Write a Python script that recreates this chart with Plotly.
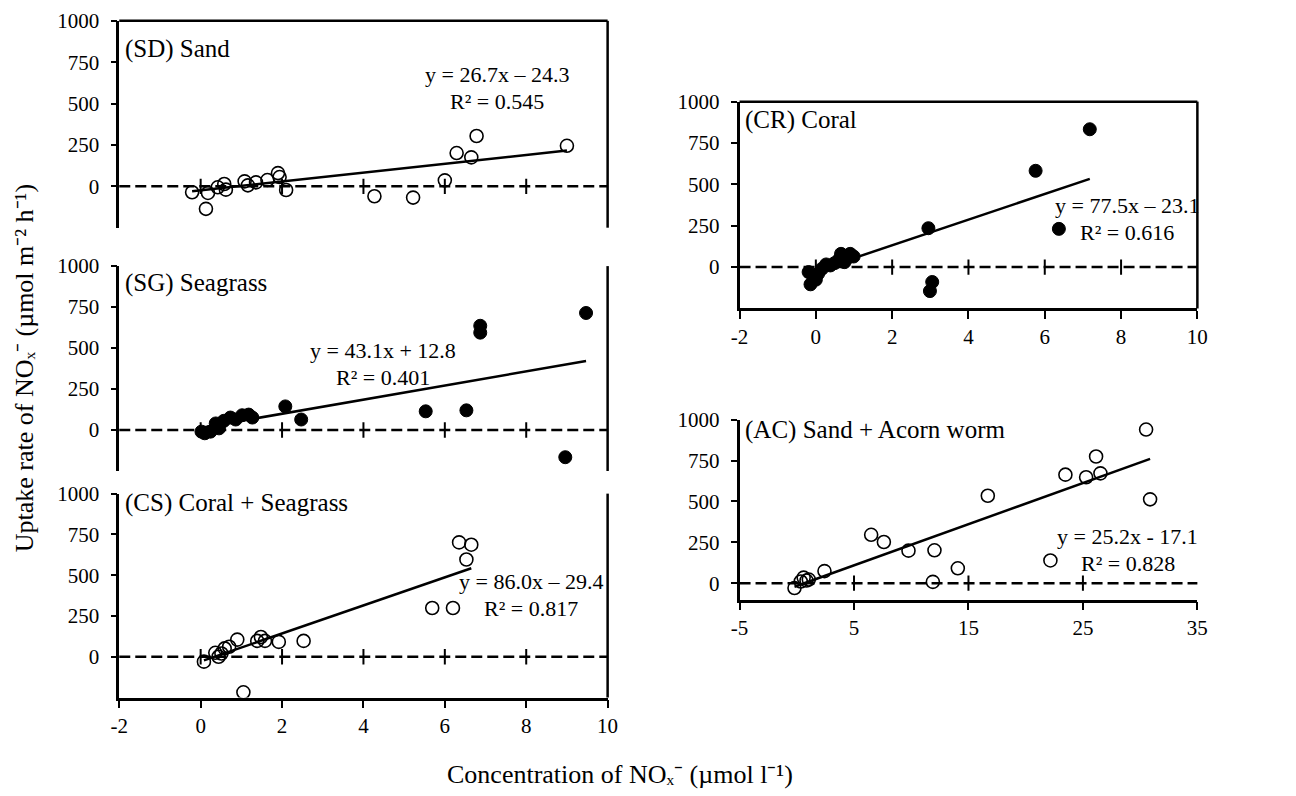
import plotly.graph_objects as go

# ---------------- data ----------------
# (SD) Sand
sd_x = [-0.21, 0.13, 0.18, 0.42, 0.58, 0.62, 1.08, 1.16, 1.36, 1.64, 1.90, 1.94, 2.10,
        4.27, 5.22, 6.00, 6.29, 6.65, 6.78, 9.00]
sd_y = [-36, -136, -40, -6, 14, -20, 30, 6, 24, 38, 80, 56, -22,
        -60, -68, 36, 201, 175, 304, 245]
sd_fit = (26.7, -24.3, "0.545")

# (SG) Seagrass
sg_x = [0.02, 0.10, 0.24, 0.37, 0.45, 0.57, 0.73, 0.86, 1.02, 1.18, 1.27,
        2.08, 2.47, 5.53, 6.53, 6.87, 6.87, 8.96, 9.47]
sg_y = [-10, -20, -10, 40, 10, 56, 76, 64, 90, 94, 76,
        144, 64, 114, 120, 636, 594, -166, 714]
sg_fit = (43.1, 12.8, "0.401")

# (CS) Coral + Seagrass
cs_x = [0.08, 0.36, 0.44, 0.51, 0.59, 0.70, 0.90, 1.05, 1.39, 1.48, 1.58, 1.92, 2.53,
        5.69, 6.20, 6.35, 6.53, 6.65]
cs_y = [-30, 24, 0, 20, 51, 61, 105, -218, 97, 121, 97, 91, 97,
        299, 299, 701, 596, 687]
cs_fit = (86.0, -29.4, "0.817")

# (CR) Coral
cr_x = [-0.19, -0.14, 0.00, 0.06, 0.16, 0.27, 0.38, 0.49, 0.60, 0.66, 0.75, 0.86, 0.90, 0.99,
        2.95, 3.05, 2.99, 5.76, 6.37, 7.18]
cr_y = [-30, -104, -76, -40, -10, 16, 10, 24, 44, 80, 30, 60, 80, 64,
        235, -90, -145, 582, 231, 833]
cr_fit = (77.5, -23.1, "0.616")

# (AC) Sand + Acorn worm
ac_x = [-0.20, 0.35, 0.60, 0.85, 1.05, 2.42, 6.50, 7.61, 9.76, 12.03, 11.89, 14.07,
        16.69, 22.16, 23.47, 25.28, 26.15, 26.53, 30.52, 30.87]
ac_y = [-30, 10, 34, 16, 22, 74, 296, 252, 199, 201, 8, 91,
        535, 139, 664, 648, 775, 672, 940, 513]
ac_fit = (25.2, -17.1, "0.828")

# axis ticks
y_ticks = [0, 250, 500, 750, 1000]
x_ticks_conc = [-2, 0, 2, 4, 6, 8, 10]
x_ticktext_conc = ["-2", "0", "2", "4", "6", "8", "10"]
x_ticks_ac = [-5, 5, 15, 25, 35]
x_ticktext_ac = ["-5", "5", "15", "25", "35"]

# ---------------- layout geometry ----------------
W, H = 1296, 796
FONT = "Liberation Serif, Times New Roman, serif"


def xdom(left, right):
    return [left / W, right / W]


def ydom(top, bottom):
    return [1 - bottom / H, 1 - top / H]


LEFT_COL = xdom(112, 608)
RIGHT_COL = xdom(742, 1207)

panels = [
    dict(label="(SD) Sand", x=sd_x, y=sd_y, fit=sd_fit, filled=False, dash_sign="–",
         xr=[-2, 10], yr=[-250, 1000], xd=LEFT_COL, yd=ydom(9, 219),
         lab_y=828, eq=(7.27, 592), top=True, right=True, bottom=False,
         xt=x_ticks_conc, xtt=x_ticktext_conc),
    dict(label="(SG) Seagrass", x=sg_x, y=sg_y, fit=sg_fit, filled=True, dash_sign="+",
         xr=[-2, 10], yr=[-250, 1000], xd=LEFT_COL, yd=ydom(258, 466),
         lab_y=900, eq=(4.47, 400), top=False, right=True, bottom=False,
         xt=x_ticks_conc, xtt=x_ticktext_conc),
    dict(label="(CS) Coral + Seagrass", x=cs_x, y=cs_y, fit=cs_fit, filled=False, dash_sign="–",
         xr=[-2, 10], yr=[-250, 1000], xd=LEFT_COL, yd=ydom(489, 696),
         lab_y=940, eq=(8.12, 377), top=False, right=True, bottom=True,
         xt=x_ticks_conc, xtt=x_ticktext_conc),
    dict(label="(CR) Coral", x=cr_x, y=cr_y, fit=cr_fit, filled=True, dash_sign="–",
         xr=[-2, 10], yr=[-250, 1000], xd=RIGHT_COL, yd=ydom(91, 301),
         lab_y=886, eq=(8.15, 291), top=True, right=True, bottom=True,
         xt=x_ticks_conc, xtt=x_ticktext_conc),
    dict(label="(AC) Sand + Acorn worm", x=ac_x, y=ac_y, fit=ac_fit, filled=False, dash_sign="-",
         xr=[-5, 35], yr=[-100, 1000], xd=RIGHT_COL, yd=ydom(414, 596.5),
         lab_y=940, eq=(28.9, 200), top=False, right=False, bottom=True,
         xt=x_ticks_ac, xtt=x_ticktext_ac),
]

fig = go.Figure()
shapes = []
annotations = []
LW = 2.5
EQ_FONT = dict(family=FONT, size=22, color="black")

for i, p in enumerate(panels, start=1):
    xa = "x" if i == 1 else f"x{i}"
    ya = "y" if i == 1 else f"y{i}"
    xkey = "xaxis" if i == 1 else f"xaxis{i}"
    ykey = "yaxis" if i == 1 else f"yaxis{i}"

    # dashed zero line with tick crosses
    shapes.append(dict(type="line", xref=f"{xa} domain", yref=ya, x0=0, x1=1, y0=0, y1=0,
                       line=dict(color="black", width=LW, dash="11px,5px"), layer="below"))
    inner = [t for t in p["xt"] if p["xr"][0] < t < p["xr"][1]]
    fig.add_trace(go.Scatter(x=inner, y=[0] * len(inner), xaxis=xa, yaxis=ya, mode="markers",
                             marker=dict(symbol="line-ns", size=11,
                                         line=dict(color="black", width=2)),
                             hoverinfo="skip", showlegend=False))

    # regression line across the range of the data
    slope, icpt, r2 = p["fit"]
    x0, x1 = min(p["x"]), max(p["x"])
    fig.add_trace(go.Scatter(x=[x0, x1], y=[slope * x0 + icpt, slope * x1 + icpt],
                             xaxis=xa, yaxis=ya, mode="lines",
                             line=dict(color="black", width=2.5),
                             hoverinfo="skip", showlegend=False))

    # observations
    if p["filled"]:
        mk = dict(symbol="circle", size=13, color="black", line=dict(color="black", width=1))
    else:
        mk = dict(symbol="circle-open", size=13, color="black", line=dict(color="black", width=1.6))
    fig.add_trace(go.Scatter(x=p["x"], y=p["y"], xaxis=xa, yaxis=ya, mode="markers",
                             marker=mk, showlegend=False))

    # axes (panels without a bottom axis keep an invisible x axis for scaling)
    if p["bottom"]:
        fig.layout[xkey] = dict(
            domain=p["xd"], range=p["xr"], anchor=ya, showgrid=False, zeroline=False,
            showline=True, linecolor="black", linewidth=LW,
            tickmode="array", tickvals=p["xt"], ticktext=p["xtt"],
            ticks="outside", ticklen=8, tickwidth=1.5, tickcolor="black",
            tickfont=dict(family=FONT, size=21, color="black"),
            fixedrange=True,
        )
    else:
        fig.layout[xkey] = dict(domain=p["xd"], range=p["xr"], anchor=ya,
                                visible=False, fixedrange=True)
    fig.layout[ykey] = dict(
        domain=p["yd"], range=p["yr"], anchor=xa, showgrid=False, zeroline=False,
        showline=True, linecolor="black", linewidth=LW,
        tickmode="array", tickvals=y_ticks,
        ticks="outside", ticklen=6, tickwidth=1.5, tickcolor="black",
        tickfont=dict(family=FONT, size=21, color="black"), ticklabelstandoff=7,
        fixedrange=True,
    )

    # frame pieces
    if p["top"]:
        shapes.append(dict(type="line", xref=f"{xa} domain", yref=f"{ya} domain",
                           x0=0, x1=1, y0=1, y1=1, line=dict(color="black", width=LW)))
    if p["right"]:
        shapes.append(dict(type="line", xref=f"{xa} domain", yref=f"{ya} domain",
                           x0=1, x1=1, y0=0, y1=1, line=dict(color="black", width=LW)))

    # panel label
    annotations.append(dict(text=p["label"], xref=f"{xa} domain", yref=ya, x=0.008, y=p["lab_y"],
                            xanchor="left", yanchor="middle", showarrow=False,
                            font=dict(family=FONT, size=25, color="black")))

    # regression equation, two centred lines
    sign = p["dash_sign"]
    if icpt >= 0:
        eq = f"y = {slope:.1f}x + {icpt:.1f}"
    else:
        eq = f"y = {slope:.1f}x {sign} {abs(icpt):.1f}"
    for txt, shift in ((eq, 13.5), (f"R² = {r2}", -13.5)):
        annotations.append(dict(text=txt, xref=xa, yref=ya, x=p["eq"][0], y=p["eq"][1],
                                yshift=shift, xanchor="center", yanchor="middle",
                                showarrow=False, font=EQ_FONT))

# shared axis titles (sub/superscripts written as Unicode characters)
annotations.append(dict(text="Uptake rate of NOₓ⁻ (µmol m⁻² h⁻¹)",
                        xref="paper", yref="paper", x=16 / W, y=1 - 362 / H, textangle=-90,
                        showarrow=False, xanchor="center", yanchor="middle",
                        font=dict(family=FONT, size=26, color="black")))
annotations.append(dict(text="Concentration of NOₓ⁻ (µmol l⁻¹)",
                        xref="paper", yref="paper", x=621 / W, y=1 - 774 / H,
                        showarrow=False, xanchor="center", yanchor="middle",
                        font=dict(family=FONT, size=26, color="black")))

fig.update_layout(
    width=W, height=H, margin=dict(l=0, r=0, t=0, b=0),
    paper_bgcolor="white", plot_bgcolor="rgba(0,0,0,0)",
    shapes=shapes, annotations=annotations, showlegend=False,
    font=dict(family=FONT, size=21, color="black"),
)

fig.write_html("out.html", config={"displayModeBar": False})
